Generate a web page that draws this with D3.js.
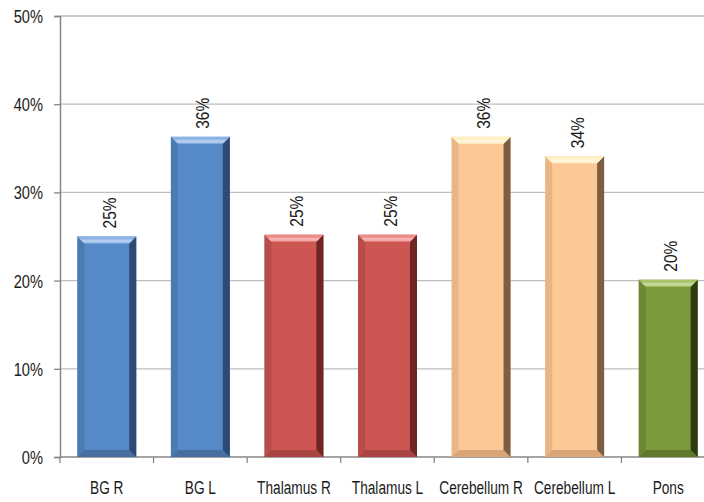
<!DOCTYPE html>
<html>
<head>
<meta charset="utf-8">
<script src="https://cdn.jsdelivr.net/npm/d3@7/dist/d3.min.js"></script>
<style>
  html, body { margin: 0; padding: 0; background: #fff; }
  svg text { font-family: "Liberation Sans", Arial, sans-serif; fill: #1a1a1a; }
</style>
</head>
<body>
<svg id="chart" width="704" height="502"></svg>
<script>
// Lesion distribution by region
const categories = ["BG R", "BG L", "Thalamus R", "Thalamus L", "Cerebellum R", "Cerebellum L", "Pons"];
const values = [25.0, 36.3, 25.2, 25.2, 36.3, 34.1, 20.1];
const labels = ["25%", "36%", "25%", "25%", "36%", "34%", "20%"];
const yTicks = [0, 10, 20, 30, 40, 50];
const palette = [
  { base: "#5689C8", light: "#8DB3E6", dark: "#2C4A74", shade: "#46709F" },
  { base: "#5689C8", light: "#8DB3E6", dark: "#2C4A74", shade: "#46709F" },
  { base: "#CD5653", light: "#EC8B88", dark: "#6E2624", shade: "#A84543" },
  { base: "#CD5653", light: "#EC8B88", dark: "#6E2624", shade: "#A84543" },
  { base: "#FCC896", light: "#FFF0C4", dark: "#7E5E40", shade: "#D9A576" },
  { base: "#FCC896", light: "#FFF0C4", dark: "#7E5E40", shade: "#D9A576" },
  { base: "#7A9A3C", light: "#A6C466", dark: "#2E3C12", shade: "#5F7A2C" }
];

const svg = d3.select("#chart");
const mLeft = 60, mRight = 715, mTop = 16, mBottom = 457, axisLeft = 60;

const x = d3.scaleBand().domain(categories).range([mLeft, mRight]).paddingInner(0.37).paddingOuter(0.185);
const y = d3.scaleLinear().domain([0, 50]).range([mBottom, mTop]);

// horizontal gridlines
svg.append("g").selectAll("line").data(yTicks.filter(t => t > 0)).join("line")
  .attr("x1", axisLeft).attr("x2", 704)
  .attr("y1", d => y(d)).attr("y2", d => y(d))
  .attr("stroke", "#BEBEBE").attr("stroke-width", 1.3);

// y axis (labels drawn condensed)
const yAxis = svg.append("g").attr("transform", `translate(${axisLeft},0)`)
  .call(d3.axisLeft(y).tickValues(yTicks).tickFormat("").tickSize(6));
yAxis.select(".domain").attr("stroke", "#868686").attr("stroke-width", 1.5);
yAxis.selectAll(".tick line").attr("stroke", "#868686").attr("stroke-width", 1.3);
svg.append("g").selectAll("text").data(yTicks).join("text")
  .attr("transform", d => `translate(43,${y(d) + 7}) scale(0.77,1)`)
  .attr("text-anchor", "end").attr("font-size", 19).text(d => d + "%");

// x axis with ticks between categories
const step = x.step();
const xAxis = svg.append("g");
xAxis.append("line").attr("x1", axisLeft).attr("x2", 704).attr("y1", mBottom).attr("y2", mBottom)
  .attr("stroke", "#868686").attr("stroke-width", 1.5);
xAxis.selectAll("line.sep").data(d3.range(categories.length)).join("line").attr("class", "sep")
  .attr("x1", (d, i) => mLeft + step * i).attr("x2", (d, i) => mLeft + step * i)
  .attr("y1", mBottom).attr("y2", mBottom + 6)
  .attr("stroke", "#868686").attr("stroke-width", 1.3);
xAxis.selectAll("text").data(categories).join("text")
  .attr("transform", d => `translate(${x(d) + x.bandwidth() / 2},494) scale(0.72,1)`)
  .attr("text-anchor", "middle").attr("font-size", 19).text(d => d);

// bevelled bars
const b = 7;
const bars = svg.append("g").selectAll("g").data(categories).join("g");
bars.each(function (c, i) {
  const g = d3.select(this);
  const p = palette[i];
  const x0 = x(c), x1 = x(c) + x.bandwidth(), yt = y(values[i]), yb = y(0);
  const pts = a => a.map(q => q.join(",")).join(" ");
  g.append("rect").attr("x", x0).attr("y", yt).attr("width", x1 - x0).attr("height", yb - yt).attr("fill", p.base);
  // left face
  g.append("polygon").attr("points", pts([[x0, yt], [x0 + b, yt + b], [x0 + b, yb - b], [x0, yb]]))
    .attr("fill", p.shade).attr("opacity", 0.55);
  // bottom face
  g.append("polygon").attr("points", pts([[x0, yb], [x0 + b, yb - b], [x1 - b, yb - b], [x1, yb]]))
    .attr("fill", p.shade);
  // right face
  g.append("polygon").attr("points", pts([[x1, yt], [x1, yb], [x1 - b, yb - b], [x1 - b, yt + b]]))
    .attr("fill", p.dark);
  // top face
  g.append("polygon").attr("points", pts([[x0, yt], [x1, yt], [x1 - b, yt + b], [x0 + b, yt + b]]))
    .attr("fill", p.light);
  g.append("polygon").attr("points", pts([[x0 + 3, yt + 3], [x1 - 3, yt + 3], [x1 - 6, yt + 6], [x0 + 6, yt + 6]]))
    .attr("fill", "#fff").attr("opacity", 0.35);
  // value label
  g.append("text")
    .attr("transform", `translate(${x0 + (x1 - x0) / 2 + 9},${yt - 8}) rotate(-90) scale(0.84,1)`)
    .attr("font-size", 18.5).attr("text-anchor", "start").text(labels[i]);
});
</script>
</body>
</html>
